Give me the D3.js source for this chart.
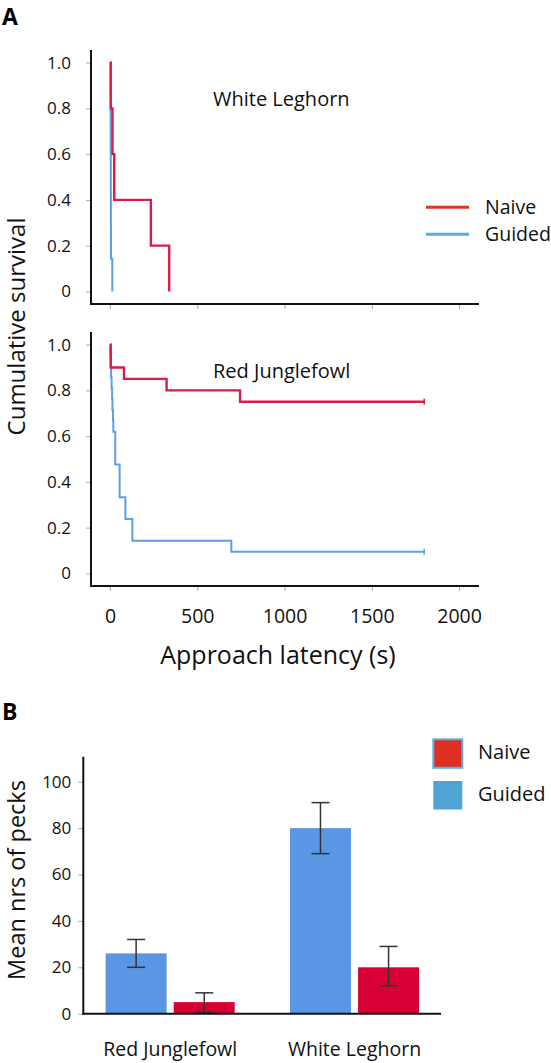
<!DOCTYPE html>
<html>
<head>
<meta charset="utf-8">
<script src="https://cdn.jsdelivr.net/npm/d3@7"></script>
<style>
  html, body { margin: 0; padding: 0; background: #fff; }
  svg { display: block; font-family: "Open Sans", "Noto Sans", sans-serif; }
</style>
</head>
<body>
<svg id="chart" width="551" height="1063"></svg>
<script>
// ---------------- DATA ----------------
// Survival panels (Kaplan-Meier step curves): event times (s) and survival after each time
const survXTicks = [0, 500, 1000, 1500, 2000];
const survYTicks = [0, 0.2, 0.4, 0.6, 0.8, 1.0];
const survYTickLabels = ["0", "0.2", "0.4", "0.6", "0.8", "1.0"];

// White Leghorn
const wlNaiveTimes = [0, 4, 14, 24, 234, 339];
const wlNaiveSurv  = [1.0, 0.8, 0.6, 0.4, 0.2, 0];
const wlGuidedTimes = [0, 3, 3.5, 4, 4.5, 5, 5.5, 13];
const wlGuidedSurv  = [1.0, 0.857, 0.714, 0.571, 0.429, 0.286, 0.143, 0];

// Red Junglefowl
const rjNaiveTimes = [0, 4, 80, 324, 745, 1800];
const rjNaiveSurv  = [1.0, 0.9, 0.85, 0.8, 0.75, 0.75];
const rjGuidedTimes = [0, 2, 4, 6, 9, 12, 14, 17, 19, 30, 55, 88, 128, 695, 1800];
const rjGuidedSurv  = [1.0, 0.952, 0.905, 0.857, 0.810, 0.762, 0.714, 0.667, 0.619, 0.476, 0.333, 0.238, 0.143, 0.095, 0.095];

const survSeries = ["Naive", "Guided"];

// Bar panel
const barCategories = ["Red Junglefowl", "White Leghorn"];
const barGroups = ["Guided", "Naive"];
const guidedMeans   = [26, 80];
const guidedErrLow  = [20, 69];
const guidedErrHigh = [32, 91];
const naiveMeans    = [5, 20];
const naiveErrLow   = [0.6, 12];
const naiveErrHigh  = [9, 29];
const barYTicks = [0, 20, 40, 60, 80, 100];

// ---------------- STYLE ----------------
const C = {
  redLine: "#d91c4a", blueLine: "#5d9fe6",
  legRed: "#e2322c", legBlue: "#5aaade",
  barBlue: "#5a96e4", barRed: "#d60034",
  sqRed: "#de2f23", sqBlue: "#4fa4d4", sqBorder: "#5fb0e2",
  tick: "#aaaaaa", axis: "#111", err: "#333"
};

const svg = d3.select("#chart");

// Panel labels
svg.append("text").attr("x", 2).attr("y", 25).attr("font-size", 23).attr("font-weight", 700).text("A");
svg.append("text").attr("x", 2).attr("y", 720).attr("font-size", 23).attr("font-weight", 700).text("B");

// ---------------- SURVIVAL PANELS ----------------
const x = d3.scaleLinear().domain([-109, 2114]).range([91, 479]);

function survPanel(offsetY, naiveT, naiveS, guidedT, guidedS, title, showXLabels, censored) {
  const y = d3.scaleLinear().domain([-0.055, 1.055]).range([304 + offsetY, 50 + offsetY]);
  const g = svg.append("g");

  // y axis
  const yAxis = d3.axisLeft(y).tickValues(survYTicks)
    .tickFormat((d, i) => survYTickLabels[i]).tickSize(5).tickPadding(15);
  const ya = g.append("g").attr("transform", `translate(91,0)`).call(yAxis);
  ya.select(".domain").remove();
  ya.selectAll(".tick line").attr("stroke", C.tick);
  ya.selectAll(".tick text").attr("font-size", 17).attr("fill", "#111")
    .attr("font-family", "Open Sans");
  g.append("line").attr("x1", 91).attr("x2", 91)
    .attr("y1", y.range()[1]).attr("y2", y.range()[0] + 1)
    .attr("stroke", C.axis).attr("stroke-width", 2);

  // x axis
  const xAxis = d3.axisBottom(x).tickValues(survXTicks)
    .tickFormat(showXLabels ? d3.format("d") : () => "").tickSize(5).tickPadding(18);
  const xa = g.append("g").attr("transform", `translate(0,${y.range()[0]})`).call(xAxis);
  xa.select(".domain").remove();
  xa.selectAll(".tick line").attr("stroke", C.tick);
  xa.selectAll(".tick text").attr("font-size", 19.5).attr("fill", "#111")
    .attr("font-family", "Open Sans");
  g.append("line").attr("x1", 90).attr("x2", 479)
    .attr("y1", y.range()[0]).attr("y2", y.range()[0])
    .attr("stroke", C.axis).attr("stroke-width", 2);

  const line = d3.line().x(d => x(d[0])).y(d => y(d[1])).curve(d3.curveStepAfter);
  const guidedPts = guidedT.map((t, i) => [t, guidedS[i]]);
  const naivePts = naiveT.map((t, i) => [t, naiveS[i]]);

  g.append("path").datum(guidedPts).attr("d", line)
    .attr("fill", "none").attr("stroke", C.blueLine).attr("stroke-width", 2);
  g.append("path").datum(naivePts).attr("d", line)
    .attr("fill", "none").attr("stroke", C.redLine).attr("stroke-width", 2.4);

  if (censored) {
    [[naivePts, C.redLine], [guidedPts, C.blueLine]].forEach(([pts, col]) => {
      const last = pts[pts.length - 1];
      g.append("line").attr("x1", x(last[0])).attr("x2", x(last[0]))
        .attr("y1", y(last[1]) - 3).attr("y2", y(last[1]) + 3)
        .attr("stroke", col).attr("stroke-width", 1.5);
    });
  }

  g.append("text").attr("x", 213).attr("y", offsetY === 0 ? 106 : 377.5)
    .attr("font-size", 20).attr("fill", "#111").text(title);
}

survPanel(0, wlNaiveTimes, wlNaiveSurv, wlGuidedTimes, wlGuidedSurv, "White Leghorn", false, false);
survPanel(282, rjNaiveTimes, rjNaiveSurv, rjGuidedTimes, rjGuidedSurv, "Red Junglefowl", true, true);

// Axis titles
svg.append("text").attr("transform", "translate(25,326.5) rotate(-90)")
  .attr("text-anchor", "middle").attr("font-size", 24).attr("fill", "#111").text("Cumulative survival");
svg.append("text").attr("x", 278).attr("y", 664)
  .attr("text-anchor", "middle").attr("font-size", 25).attr("fill", "#111").text("Approach latency (s)");

// Legend A
const legA = svg.append("g");
survSeries.forEach((s, i) => {
  const yy = 207.3 + i * 27;
  legA.append("line").attr("x1", 426).attr("x2", 469).attr("y1", yy).attr("y2", yy)
    .attr("stroke", i === 0 ? C.legRed : C.legBlue).attr("stroke-width", 3);
  legA.append("text").attr("x", 485).attr("y", yy + 6.5).attr("font-size", 19.5)
    .attr("fill", "#111").text(s);
});

// ---------------- BAR PANEL ----------------
const yb = d3.scaleLinear().domain([0, 110.8]).range([1013.7, 756.7]);
const x0 = d3.scaleBand().domain(barCategories).range([78, 446.7]).paddingInner(0.3).paddingOuter(0.15);
const x1 = d3.scaleBand().domain(barGroups).range([0, x0.bandwidth()]).paddingInner(0.105);

const barData = [];
barCategories.forEach((c, i) => {
  barData.push({ cat: c, grp: "Guided", v: guidedMeans[i], lo: guidedErrLow[i], hi: guidedErrHigh[i] });
  barData.push({ cat: c, grp: "Naive", v: naiveMeans[i], lo: naiveErrLow[i], hi: naiveErrHigh[i] });
});

const bg = svg.append("g");
bg.selectAll("rect.bar").data(barData).join("rect").attr("class", "bar")
  .attr("x", d => x0(d.cat) + x1(d.grp))
  .attr("width", x1.bandwidth())
  .attr("y", d => yb(d.v))
  .attr("height", d => yb(0) - yb(d.v))
  .attr("fill", d => d.grp === "Guided" ? C.barBlue : C.barRed);

// error bars
const eb = bg.selectAll("g.err").data(barData).join("g").attr("class", "err")
  .attr("transform", d => `translate(${x0(d.cat) + x1(d.grp) + x1.bandwidth() / 2},0)`);
eb.append("line").attr("y1", d => yb(d.lo)).attr("y2", d => yb(d.hi))
  .attr("stroke", C.err).attr("stroke-width", 1.5);
eb.append("line").attr("x1", -9).attr("x2", 9).attr("y1", d => yb(d.hi)).attr("y2", d => yb(d.hi))
  .attr("stroke", C.err).attr("stroke-width", 1.5);
eb.append("line").attr("x1", -9).attr("x2", 9).attr("y1", d => yb(d.lo)).attr("y2", d => yb(d.lo))
  .attr("stroke", C.err).attr("stroke-width", 1.5);

// y axis
const ybAxis = d3.axisLeft(yb).tickValues(barYTicks).tickSize(5).tickPadding(7);
const yba = svg.append("g").attr("transform", "translate(83.3,0)").call(ybAxis);
yba.select(".domain").remove();
yba.selectAll(".tick line").attr("stroke", C.tick);
yba.selectAll(".tick text").attr("font-size", 17).attr("fill", "#111").attr("font-family", "Open Sans");
svg.append("line").attr("x1", 83.3).attr("x2", 83.3).attr("y1", 756.7).attr("y2", 1014.7)
  .attr("stroke", C.axis).attr("stroke-width", 2);

// x axis
const xba = svg.append("g").attr("transform", "translate(0,1013.7)")
  .call(d3.axisBottom(x0).tickSize(0).tickPadding(28.5));
xba.select(".domain").remove();
xba.selectAll(".tick text").attr("font-size", 19.5).attr("fill", "#111").attr("font-family", "Open Sans");
svg.append("line").attr("x1", 82.3).attr("x2", 441).attr("y1", 1013.7).attr("y2", 1013.7)
  .attr("stroke", C.axis).attr("stroke-width", 2);

svg.append("text").attr("transform", "translate(25,880) rotate(-90)")
  .attr("text-anchor", "middle").attr("font-size", 23.5).attr("fill", "#111").text("Mean nrs of pecks");

// Legend B
const legB = svg.append("g");
["Naive", "Guided"].forEach((s, i) => {
  const yy = 738.3 + i * 41.7;
  legB.append("rect").attr("x", 433.3).attr("y", yy + 1).attr("width", 29).attr("height", 28.5)
    .attr("fill", i === 0 ? C.sqRed : C.sqBlue)
    .attr("stroke", i === 0 ? C.sqBorder : "none").attr("stroke-width", 2);
  legB.append("text").attr("x", 478).attr("y", yy + 21).attr("font-size", 20)
    .attr("fill", "#111").text(s);
});
</script>
</body>
</html>
